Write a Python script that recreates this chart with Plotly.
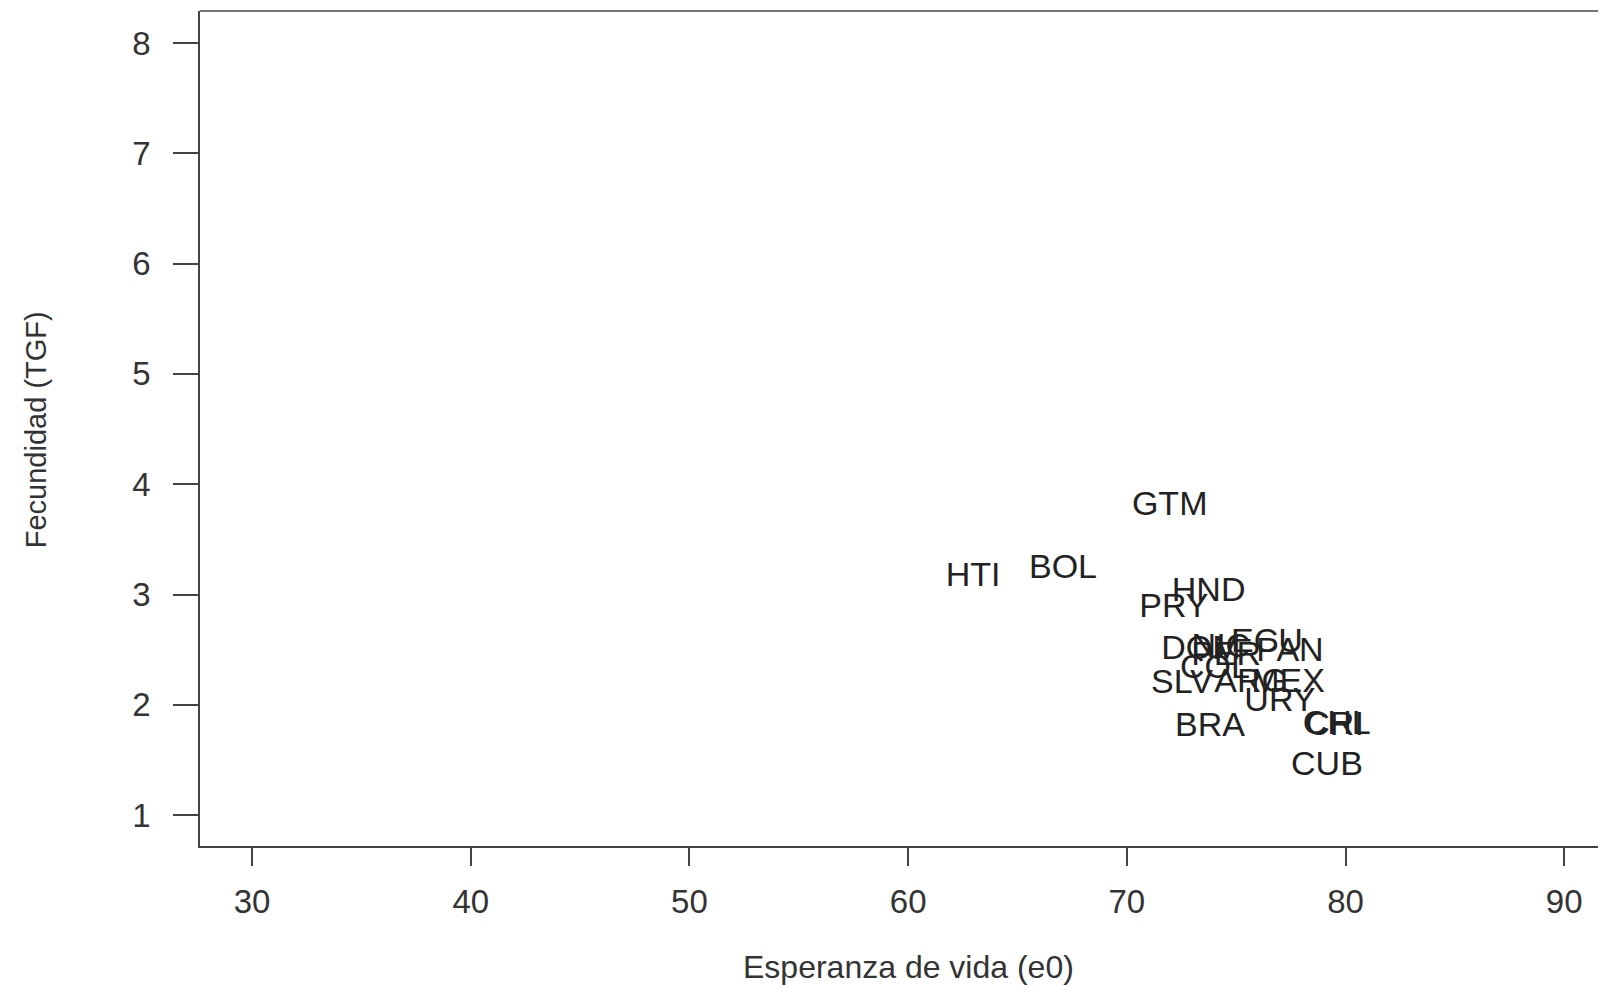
import plotly.graph_objects as go

# Country codes, life expectancy (e0) and total fertility rate (TGF)
countries = ["GTM", "HTI", "BOL", "HND", "PRY", "ECU", "DOM", "PAN", "PER", "NIC",
             "COL", "SLV", "ARG", "MEX", "URY", "BRA", "CHL", "CRI", "CUB"]
e0 = [71.96, 62.97, 67.08, 73.74, 72.15, 76.41, 73.39, 77.46, 74.54, 74.3,
      74.03, 72.52, 75.68, 77.37, 77.0, 73.8, 79.6, 79.5, 79.15]
tgf = [3.80, 3.15, 3.23, 3.02, 2.87, 2.56, 2.49, 2.47, 2.44, 2.51,
       2.32, 2.18, 2.19, 2.19, 2.02, 1.79, 1.81, 1.80, 1.44]

x_ticks = [30, 40, 50, 60, 70, 80, 90]
y_ticks = [1, 2, 3, 4, 5, 6, 7, 8]

FONT = "Liberation Sans, Arial, Helvetica, sans-serif"

fig = go.Figure()
fig.add_trace(go.Scatter(
    x=e0, y=tgf, text=countries, mode="text",
    textposition="middle center",
    textfont=dict(family=FONT, size=34, color="#222222"),
    showlegend=False, hoverinfo="text+x+y",
))

axis_common = dict(
    showgrid=False, zeroline=False, showline=True, linecolor="#444444", linewidth=1.5,
    ticks="outside", tickcolor="#444444", tickwidth=1.5,
    tickfont=dict(family=FONT, size=33, color="#333333"),
    automargin=False,
)

fig.update_xaxes(range=[27.62, 91.91], tickvals=x_ticks, ticklen=18,
                 ticklabelstandoff=8, **axis_common)
fig.update_yaxes(range=[0.72, 8.29], tickvals=y_ticks, ticklen=25,
                 ticklabelstandoff=16, **axis_common)

fig.add_shape(type="line", xref="paper", yref="paper", x0=0, x1=1, y0=1, y1=1,
              line=dict(color="#444444", width=1.5))

fig.add_annotation(text="Esperanza de vida (e0)", xref="paper", yref="paper",
                   x=0.5036, y=-0.145, xanchor="center", yanchor="middle",
                   showarrow=False, font=dict(family=FONT, size=32, color="#333333"))
fig.add_annotation(text="Fecundidad (TGF)", xref="paper", yref="paper",
                   x=-0.1166, y=0.498, xanchor="center", yanchor="middle",
                   textangle=-90, showarrow=False,
                   font=dict(family=FONT, size=29, color="#333333"))

# The page body adds an 8px margin, so the figure is sized to fit the window.
fig.update_layout(
    width=1598, height=977,
    margin=dict(l=192, r=0, t=3, b=139),
    paper_bgcolor="white", plot_bgcolor="white",
)

fig.write_html("out.html")
